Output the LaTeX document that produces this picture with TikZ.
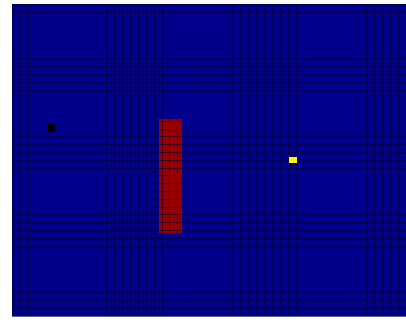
\documentclass[tikz,border=0pt]{standalone}
\definecolor{cellblue}{RGB}{0,0,140}
\definecolor{cellred}{RGB}{150,0,0}
\definecolor{cellyellow}{RGB}{255,240,20}
\definecolor{gridline}{RGB}{0,0,50}
\tikzset{
  gridlines/.style={draw=gridline,line width=0.3pt,opacity=0.6},
  agent/.style={fill=black},
  wall/.style={fill=cellred},
  goal/.style={fill=cellyellow,draw=gridline,line width=0.4pt},
}
\begin{document}
\begin{tikzpicture}[x=1pt,y=-1pt]
\useasboundingbox (0,0) rectangle (406,321);
\fill[white] (0,0) rectangle (406,321);
\fill[cellblue] (12,4) rectangle (406,316);
\fill[wall] (159,119) rectangle (182,233);
\foreach \i in {0,...,50} {
  \draw[gridlines] ({12+\i*7.88},4) -- ({12+\i*7.88},316);
}
\foreach \j in {0,...,40} {
  \draw[gridlines] (12,{4+\j*7.8}) -- (406,{4+\j*7.8});
}
\fill[agent] (47,124) rectangle (55,132);
\path[goal] (288,156) rectangle (297,163);
\end{tikzpicture}
\end{document}
